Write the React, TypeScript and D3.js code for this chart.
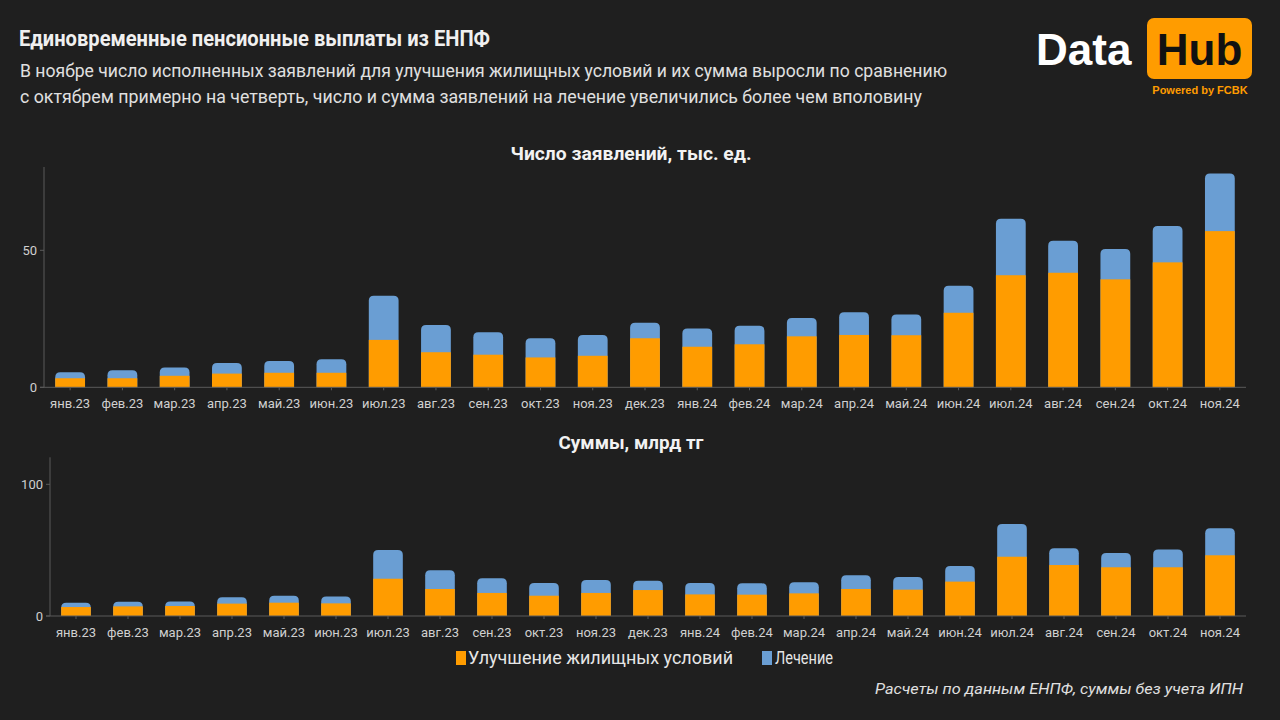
import React from "react";
import * as d3 from "d3";

const months = ["янв.23","фев.23","мар.23","апр.23","май.23","июн.23","июл.23","авг.23","сен.23","окт.23","ноя.23","дек.23","янв.24","фев.24","мар.24","апр.24","май.24","июн.24","июл.24","авг.24","сен.24","окт.24","ноя.24"];

// Число заявлений, тыс. ед.
const countHousing = [3.3,3.3,4.2,5.0,5.3,5.3,17.3,12.8,11.9,10.9,11.5,17.9,14.8,15.7,18.6,19.1,19.0,27.2,40.9,41.8,39.4,45.6,57.0];
const countTotal = [5.5,6.2,7.2,8.9,9.6,10.2,33.4,22.7,20.1,17.9,19.1,23.6,21.5,22.5,25.3,27.4,26.6,37.1,61.5,53.5,50.5,58.9,78.0];

// Суммы, млрд тг
const sumHousing = [6.8,7.3,7.6,9.4,10.1,9.6,28.3,20.5,17.5,15.4,17.5,19.7,16.4,16.2,17.2,20.5,20.0,26.1,45.0,38.7,37.0,37.0,46.1];
const sumTotal = [10.1,10.9,11.1,14.2,15.4,14.9,50.1,34.7,28.6,25.1,27.3,26.8,25.1,24.8,25.6,30.9,29.6,38.0,69.9,51.4,47.8,50.4,66.6];

const countTicks = [0, 50];
const sumTicks = [0, 100];

const ORANGE = "#FF9C00";
const BLUE = "#6A9ED3";
const BG = "#1F1F1F";
const AXIS = "#5a5a5a";
const FONT = "Roboto, 'Noto Sans', sans-serif";

function topRounded(x: number, y: number, w: number, h: number, r: number) {
  const rr = Math.min(r, h, w / 2);
  return `M${x},${y + h}V${y + rr}Q${x},${y} ${x + rr},${y}H${x + w - rr}Q${x + w},${y} ${x + w},${y + rr}V${y + h}Z`;
}

type PanelProps = {
  title: string;
  titleLen: number;
  titleY: number;
  x0: number;
  x1: number;
  yTop: number;
  yBase: number;
  yMax: number;
  ticks: number[];
  housing: number[];
  total: number[];
  labelY: number;
};

function Panel(p: PanelProps) {
  const x = d3.scaleBand<string>().domain(months).range([p.x0, p.x1]).paddingInner(0.43).paddingOuter(0.215);
  const y = d3.scaleLinear().domain([0, p.yMax]).range([p.yBase, p.yTop]);
  const bw = x.bandwidth();
  return (
    <g>
      <text x={631} y={p.titleY} fill="#f2f2f2" fontSize={18} fontWeight={700} textAnchor="middle" fontFamily={FONT} textLength={p.titleLen} lengthAdjust="spacingAndGlyphs">{p.title}</text>
      <line x1={p.x0} x2={p.x0} y1={p.yTop} y2={p.yBase} stroke={AXIS} strokeWidth={1} />
      {p.ticks.map((t) => (
        <g key={t}>
          <line x1={p.x0 - 4} x2={p.x0} y1={y(t)} y2={y(t)} stroke={AXIS} />
          <text x={p.x0 - 7} y={y(t)} dy="0.35em" textAnchor="end" fill="#cfcfcf" fontSize={13} fontFamily={FONT}>{t}</text>
        </g>
      ))}
      {months.map((m, i) => {
        const bx = x(m)!;
        const yt = y(p.total[i]);
        const yh = y(p.housing[i]);
        return (
          <g key={m}>
            <path d={topRounded(bx, yt, bw, p.yBase - yt, 5)} fill={BLUE} />
            <rect x={bx} y={yh} width={bw} height={p.yBase - yh} fill={ORANGE} />
            <line x1={bx + bw / 2} x2={bx + bw / 2} y1={p.yBase} y2={p.yBase + 3} stroke={AXIS} />
            <text x={bx + bw / 2} y={p.labelY} textAnchor="middle" fill="#d0d0d0" fontSize={13} fontFamily={FONT}>{m}</text>
          </g>
        );
      })}
      <line x1={p.x0 - 4} x2={p.x1} y1={p.yBase} y2={p.yBase} stroke={AXIS} strokeWidth={1} />
    </g>
  );
}

export default function App() {
  return (
    <svg width={1280} height={720} style={{ position: "absolute", left: 0, top: 0, display: "block" }}>
      <rect width={1280} height={720} fill={BG} />
      <text x={19} y={46} fill="#f0f0f0" fontSize={22.5} fontWeight={700} fontFamily={FONT} textLength={471} lengthAdjust="spacingAndGlyphs">Единовременные пенсионные выплаты из ЕНПФ</text>
      <text x={20} y={77} fill="#e0e0e0" fontSize={18} fontFamily={FONT} textLength={927} lengthAdjust="spacingAndGlyphs">В ноябре число исполненных заявлений для улучшения жилищных условий и их сумма выросли по сравнению</text>
      <text x={20} y={103} fill="#e0e0e0" fontSize={18} fontFamily={FONT} textLength={902} lengthAdjust="spacingAndGlyphs">с октябрем примерно на четверть, число и сумма заявлений на лечение увеличились более чем вполовину</text>

      {/* Logo */}
      <text x={1036} y={65} fill="#ffffff" fontSize={44} fontWeight={700} fontFamily="'Liberation Sans', Arial, sans-serif">Data</text>
      <rect x={1147} y={18} width={105} height={61} rx={7} fill={ORANGE} />
      <text x={1199.5} y={65} fill="#111111" fontSize={44} fontWeight={700} textAnchor="middle" fontFamily="'Liberation Sans', Arial, sans-serif">Hub</text>
      <text x={1200} y={94} fill={ORANGE} fontSize={11} fontWeight={700} textAnchor="middle" fontFamily="'Liberation Sans', Arial, sans-serif">Powered by FCBK</text>

      <Panel title="Число заявлений, тыс. ед." titleLen={241} titleY={160} x0={44} x1={1246} yTop={167} yBase={387.3} yMax={80.4} ticks={countTicks} housing={countHousing} total={countTotal} labelY={407.5} />
      <Panel title="Суммы, млрд тг" titleLen={145} titleY={449} x0={50} x1={1246} yTop={457.3} yBase={616} yMax={120.5} ticks={sumTicks} housing={sumHousing} total={sumTotal} labelY={636.5} />

      {/* Legend */}
      <rect x={456} y={651} width={10} height={14} fill={ORANGE} />
      <text x={468} y={664} fill="#e6e6e6" fontSize={17.5} fontFamily={FONT} textLength={265} lengthAdjust="spacingAndGlyphs">Улучшение жилищных условий</text>
      <rect x={762} y={651} width={10} height={14} fill={BLUE} />
      <text x={775} y={664} fill="#e6e6e6" fontSize={17.5} fontFamily={FONT} textLength={58} lengthAdjust="spacingAndGlyphs">Лечение</text>

      <text x={1243} y={694} textAnchor="end" fill="#e0e0e0" fontSize={15.5} fontStyle="italic" fontFamily={FONT} textLength={368} lengthAdjust="spacingAndGlyphs">Расчеты по данным ЕНПФ, суммы без учета ИПН</text>
    </svg>
  );
}
